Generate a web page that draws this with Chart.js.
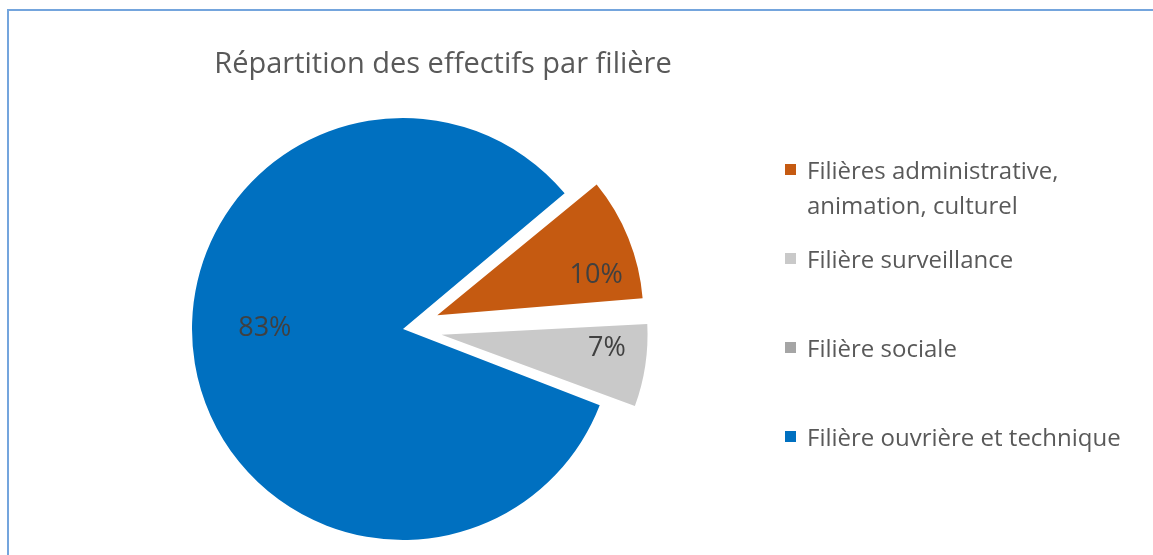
<!DOCTYPE html>
<html lang="fr">
<head>
<meta charset="utf-8">
<title>Répartition des effectifs par filière</title>
<script src="https://cdn.jsdelivr.net/npm/chart.js@4.4.1/dist/chart.umd.min.js"></script>
<style>
    html, body {
        margin: 0;
        padding: 0;
        background: #ffffff;
    }
    #wrap {
        position: relative;
        width: 1153px;
        height: 555px;
        overflow: hidden;
        font-family: "Open Sans", "Noto Sans", sans-serif;
    }
    #frame {
        position: absolute;
        left: 7px;
        top: 9px;
        width: 1200px;
        height: 600px;
        border-left: 2px solid #74a5dd;
        border-top: 2px solid #74a5dd;
    }
    #pie-canvas {
        position: absolute;
        left: 0;
        top: 0;
    }
    #title {
        position: absolute;
        left: 443px;
        top: 61px;
        transform: translate(-50%, -50%);
        white-space: nowrap;
        font-size: 29px;
        color: #595959;
    }
    .legend-item {
        position: absolute;
        left: 785px;
        width: 350px;
        color: #595959;
        font-size: 24px;
        line-height: 35px;
    }
    .legend-box {
        position: absolute;
        left: 0;
        top: 12px;
        width: 11px;
        height: 11px;
    }
    .legend-text {
        margin-left: 22px;
    }
</style>
</head>
<body>
<div id="wrap">
    <div id="frame"></div>
    <canvas id="pie-canvas" width="1153" height="555"></canvas>
    <div id="title">Répartition des effectifs par filière</div>
    <div id="legend"></div>
</div>
<script>
// Data
const filieres = [
    'Filières administrative, animation, culturel',
    'Filière surveillance',
    'Filière sociale',
    'Filière ouvrière et technique'
];
const parts = [10, 7, 0, 83];
const sliceColors = ['#c55a11', '#c9c9c9', '#a5a5a5', '#0070c0'];
// how far each slice is pulled out, in pixels
const explodePx = [37, 39, 0, 0];
const pulledRadius = 206;

// where each percent label sits inside its slice (angle fraction, radius fraction)
const labelPlace = [
    [0.72, 0.776],
    [0.34, 0.786],
    [0.5, 0.6],
    [0.532, 0.655]
];

// Chart.js shifts an arc by offset/4, so offset = 4 * pixels
const explode = explodePx.map(px => px * 4);

// Chart.js also grows an exploded arc's radius; set it back
const keepRadius = {
    id: 'keepRadius',
    beforeDatasetsDraw(chart) {
        const meta = chart.getDatasetMeta(0);
        const base = meta.controller.outerRadius;
        meta.data.forEach((arc, i) => {
            const fix = 1 - Math.sin(Math.min(Math.PI, arc.circumference || 0));
            const r = explodePx[i] ? pulledRadius : base;
            arc.outerRadius = r - explodePx[i] * fix;
        });
    }
};

const pctLabels = {
    id: 'pctLabels',
    afterDatasetsDraw(chart) {
        const ctx = chart.ctx;
        const meta = chart.getDatasetMeta(0);
        const base = meta.controller.outerRadius;
        ctx.save();
        ctx.font = '27px "Open Sans", "Noto Sans", sans-serif';
        ctx.fillStyle = '#404040';
        ctx.textAlign = 'center';
        ctx.textBaseline = 'middle';
        meta.data.forEach((arc, i) => {
            if (!parts[i]) return;
            const p = arc.getProps(['x', 'y', 'startAngle', 'endAngle']);
            const off = explodePx[i];
            const mid = (p.startAngle + p.endAngle) / 2;
            const cx = p.x + Math.cos(mid) * off;
            const cy = p.y + Math.sin(mid) * off;
            const a = p.startAngle + (p.endAngle - p.startAngle) * labelPlace[i][0];
            const r = base * labelPlace[i][1];
            ctx.fillText(parts[i] + '%', cx + Math.cos(a) * r, cy + Math.sin(a) * r);
        });
        ctx.restore();
    }
};

function buildLegend() {
    const legend = document.getElementById('legend');
    filieres.forEach((name, i) => {
        const item = document.createElement('div');
        item.className = 'legend-item';
        item.style.top = (169 - 17.5 + i * 89) + 'px';
        const box = document.createElement('div');
        box.className = 'legend-box';
        box.style.background = sliceColors[i];
        const text = document.createElement('div');
        text.className = 'legend-text';
        text.textContent = name;
        item.appendChild(box);
        item.appendChild(text);
        legend.appendChild(item);
    });
}

function createPie() {
    const ctx = document.getElementById('pie-canvas').getContext('2d');
    new Chart(ctx, {
        type: 'pie',
        data: {
            labels: filieres,
            datasets: [{
                data: parts,
                backgroundColor: sliceColors,
                borderWidth: 0,
                offset: explode
            }]
        },
        options: {
            responsive: false,
            animation: false,
            rotation: 50,
            radius: 211,
            layout: {
                padding: { left: 180, right: 527, top: 106, bottom: 3 }
            },
            plugins: {
                legend: { display: false },
                title: { display: false },
                tooltip: { enabled: false }
            }
        },
        plugins: [keepRadius, pctLabels]
    });
}

buildLegend();
createPie();
</script>
</body>
</html>
